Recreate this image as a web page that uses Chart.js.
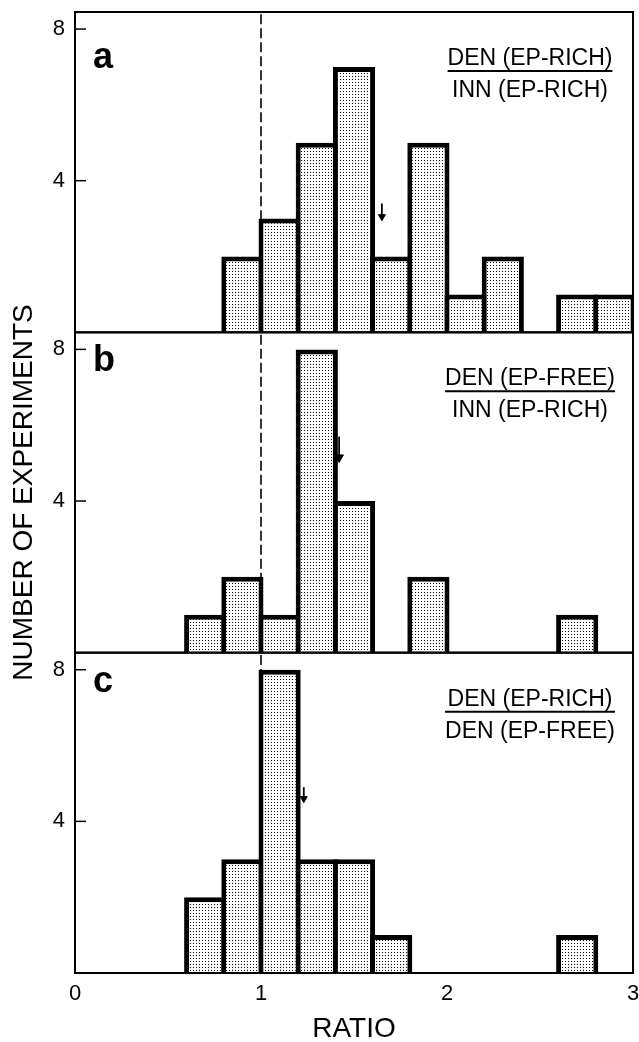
<!DOCTYPE html>
<html>
<head>
<meta charset="utf-8">
<script src="https://cdn.jsdelivr.net/npm/chart.js@4.4.1/dist/chart.umd.min.js"></script>
<style>
  html, body { margin: 0; padding: 0; background: #fff; }
  #chart { display: block; }
</style>
</head>
<body>
<canvas id="chart" width="639" height="1042"></canvas>
<script>
'use strict';

// histogram bins (lower edge of each 0.2-wide bin)
var binStarts = [0.6, 0.8, 1.0, 1.2, 1.4, 1.6, 1.8, 2.0, 2.2, 2.4, 2.6, 2.8];
var binWidth = 0.2;

// number of experiments per bin, panels a, b, c
var countsA = [0, 2, 3, 5, 7, 2, 5, 1, 2, 0, 1, 1];
var countsB = [1, 2, 1, 8, 4, 0, 2, 0, 0, 0, 1, 0];
var countsC = [2, 3, 8, 3, 3, 1, 0, 0, 0, 0, 1, 0];

// mean-value arrows: x position, shaft top, head centre
var arrowX = [1.65, 1.42, 1.23];
var arrowFrom = [3.4, 5.7, 4.9];
var arrowTo = [3.05, 5.15, 4.6];

var panelLetters = ['a', 'b', 'c'];
var fracTop = ['DEN (EP-RICH)', 'DEN (EP-FREE)', 'DEN (EP-RICH)'];
var fracBottom = ['INN (EP-RICH)', 'INN (EP-RICH)', 'DEN (EP-FREE)'];

var xTicks = [0, 1, 2, 3];
var yTicks = [4, 8];
var yMax = 8.45;
var refLine = 1;

var FONT = "'Liberation Sans', Arial, Helvetica, sans-serif";
Chart.defaults.font.family = FONT;
Chart.defaults.color = '#000';

// dotted stipple fill like the printed figure
function stipple() {
    var c = document.createElement('canvas');
    c.width = 3; c.height = 3;
    var g = c.getContext('2d');
    g.fillStyle = '#fff';
    g.fillRect(0, 0, 3, 3);
    g.fillStyle = '#000';
    g.fillRect(1, 1, 1, 1);
    return g.createPattern(c, 'repeat');
}
var fill = stipple();

function histData(counts) {
    return binStarts.map(function(s, i) {
        return { x: s + binWidth / 2, y: counts[i] === 0 ? null : counts[i] };
    });
}

var axisIds = ['ya', 'yb', 'yc'];
var allCounts = [countsA, countsB, countsC];
var datasets = [];

axisIds.forEach(function(id, i) {
    datasets.push({
        type: 'bar',
        data: histData(allCounts[i]),
        yAxisID: id,
        backgroundColor: fill,
        borderColor: '#000',
        borderWidth: 5,
        borderSkipped: 'start',
        grouped: false,
        barPercentage: 1.134,
        categoryPercentage: 1,
        order: 1
    });
    // dashed reference line at ratio = 1
    datasets.push({
        type: 'line',
        data: [{ x: refLine, y: 0 }, { x: refLine, y: yMax }],
        yAxisID: id,
        borderColor: '#000',
        borderWidth: 1.6,
        borderDash: [10, 4],
        pointRadius: 0,
        order: 5
    });
    // arrow marking the mean
    datasets.push({
        type: 'line',
        data: [{ x: arrowX[i], y: arrowFrom[i] }, { x: arrowX[i], y: arrowTo[i] }],
        yAxisID: id,
        borderColor: '#000',
        borderWidth: 1.8,
        pointRadius: [0, i === 1 ? 5 : 4],
        pointStyle: 'triangle',
        rotation: 180,
        pointBackgroundColor: '#000',
        pointBorderColor: '#000',
        pointBorderWidth: 1,
        order: 0
    });
});

function yScale(withTitle) {
    return {
        type: 'linear',
        position: 'left',
        stack: 'panels',
        stackWeight: 1,
        min: 0,
        max: yMax,
        afterBuildTicks: function(axis) {
            axis.ticks = yTicks.map(function(v) { return { value: v }; });
        },
        afterFit: function(axis) {
            axis.width = 75;
            axis.paddingTop = 0;
            axis.paddingBottom = 0;
        },
        grid: { display: false },
        border: { display: false },
        ticks: { font: { size: 22 }, padding: 2 },
        title: {
            display: withTitle,
            text: 'NUMBER OF EXPERIMENTS',
            font: { size: 28 },
            padding: { top: 7, bottom: 0 }
        }
    };
}

// frame, inward tick marks, panel letters and ratio labels
var decorations = {
    id: 'decorations',
    afterDraw: function(chart) {
        var ctx = chart.ctx;
        var area = chart.chartArea;
        ctx.save();
        axisIds.forEach(function(id, i) {
            var s = chart.scales[id];
            ctx.strokeStyle = '#000';
            ctx.lineWidth = 2;
            ctx.strokeRect(area.left, s.top, area.right - area.left, s.bottom - s.top);
            ctx.lineWidth = 1.5;
            yTicks.forEach(function(v) {
                var y = s.getPixelForValue(v);
                ctx.beginPath();
                ctx.moveTo(area.left, y);
                ctx.lineTo(area.left + 11, y);
                ctx.stroke();
            });

            ctx.fillStyle = '#000';
            ctx.textAlign = 'left';
            ctx.textBaseline = 'alphabetic';
            ctx.font = 'bold 36px ' + FONT;
            ctx.fillText(panelLetters[i], area.left + 18, s.top + (i === 0 ? 56 : 39));

            ctx.font = '23px ' + FONT;
            ctx.textAlign = 'center';
            var cx = 530;
            var w = Math.max(ctx.measureText(fracTop[i]).width, ctx.measureText(fracBottom[i]).width);
            ctx.fillText(fracTop[i], cx, s.top + 53);
            ctx.fillText(fracBottom[i], cx, s.top + 85);
            ctx.lineWidth = 2;
            ctx.beginPath();
            ctx.moveTo(cx - w / 2, s.top + 59);
            ctx.lineTo(cx + w / 2, s.top + 59);
            ctx.stroke();
        });
        ctx.restore();
    }
};

new Chart(document.getElementById('chart'), {
    type: 'bar',
    data: { datasets: datasets },
    options: {
        responsive: false,
        animation: false,
        layout: { padding: { top: 12, right: 5, left: 0, bottom: 0 } },
        plugins: { legend: { display: false }, tooltip: { enabled: false } },
        scales: {
            x: {
                type: 'linear',
                position: 'bottom',
                offset: false,
                min: 0,
                max: 3,
                afterBuildTicks: function(axis) {
                    axis.ticks = xTicks.map(function(v) { return { value: v }; });
                },
                afterFit: function(axis) {
                    axis.height = 69;
                    // let the "3" run to the page edge as in the figure
                    axis.paddingLeft = 0;
                    axis.paddingRight = 0;
                },
                grid: { display: false },
                border: { display: false },
                ticks: { font: { size: 22 }, padding: 0 },
                title: {
                    display: true,
                    text: 'RATIO',
                    font: { size: 28 },
                    padding: { top: 0, bottom: -4 }
                }
            },
            // stacked panels: listed bottom first
            yc: yScale(false),
            yb: yScale(true),
            ya: yScale(false)
        }
    },
    plugins: [decorations]
});
</script>
</body>
</html>
